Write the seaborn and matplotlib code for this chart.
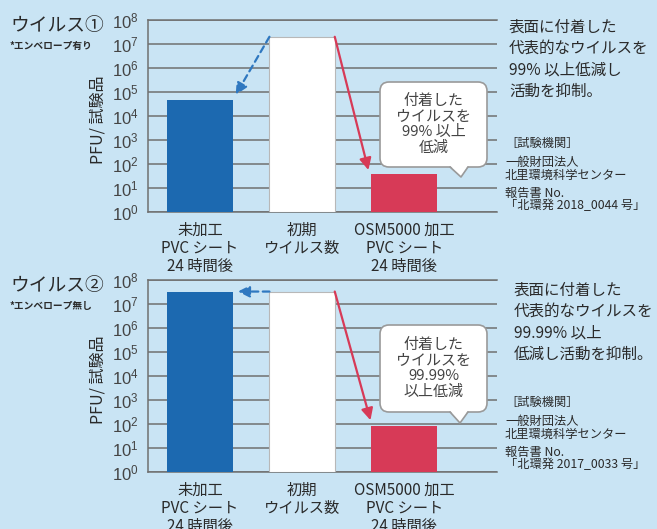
import numpy as np
import pandas as pd
import matplotlib
matplotlib.use("Agg")
import matplotlib.pyplot as plt
import matplotlib.transforms as mtransforms
from matplotlib.patches import FancyBboxPatch, Polygon
from matplotlib.lines import Line2D
from matplotlib.ticker import FixedLocator, NullLocator
import seaborn as sns

# ---------------- data ----------------
categories = ["未加工\nPVC シート\n24 時間後", "初期\nウイルス数", "OSM5000 加工\nPVC シート\n24 時間後"]
virus1_values = [4.5e4, 2.0e7, 40]
virus2_values = [3.3e7, 3.3e7, 80]
ytick_exponents = [0, 1, 2, 3, 4, 5, 6, 7, 8]
ytick_labels = [f"$10^{{{e}}}$" for e in ytick_exponents]
titles = ["ウイルス①", "ウイルス②"]
subtitles = ["*エンベロープ有り", "*エンベロープ無し"]
ylabel = "PFU/ 試験品"
bubble_texts = [["付着した", "ウイルスを", "99% 以上", "低減"],
                ["付着した", "ウイルスを", "99.99%", "以上低減"]]
claim_texts = [["表面に付着した", "代表的なウイルスを", "99% 以上低減し", "活動を抑制。"],
               ["表面に付着した", "代表的なウイルスを", "99.99% 以上", "低減し活動を抑制。"]]
lab_texts = [["［試験機関］", "一般財団法人", "北里環境科学センター", "報告書 No.", "「北環発 2018_0044 号」"],
             ["［試験機関］", "一般財団法人", "北里環境科学センター", "報告書 No.", "「北環発 2017_0033 号」"]]

# ---------------- style ----------------
BG = "#c9e4f4"
BAR_COLORS = ["#1c69b0", "#ffffff", "#d73a57"]
GRID = "#707070"
TXT = "#2a2a2a"
W, H = 657, 529

sns.set_style("white")
plt.rcParams["font.family"] = ["Noto Sans CJK JP", "DejaVu Sans"]
plt.rcParams["mathtext.fontset"] = "custom"
plt.rcParams["mathtext.rm"] = "Liberation Sans"
plt.rcParams["mathtext.it"] = "Liberation Sans"

fig = plt.figure(figsize=(W / 100, H / 100), dpi=100)
fig.patch.set_facecolor(BG)

PX = mtransforms.Affine2D().scale(1 / W, -1 / H).translate(0, 1) + fig.transFigure


def ftext(x, y, s, **kw):
    kw.setdefault("color", TXT)
    fig.text(x, y, s, transform=PX, **kw)


def bubble(x0, y0, x1, y1, tail, lines):
    box = FancyBboxPatch((x0, y0), x1 - x0, y1 - y0,
                         boxstyle="round,pad=0,rounding_size=9",
                         transform=PX, facecolor="white", edgecolor="#9a9a9a",
                         linewidth=1.2, zorder=5)
    fig.add_artist(box)
    tx1, tx2, tip = tail
    poly = Polygon([(tx1, y1 - 1.5), tip, (tx2, y1 - 1.5)], closed=True,
                   transform=PX, facecolor="white", edgecolor="none", zorder=6)
    fig.add_artist(poly)
    fig.add_artist(Line2D([tx1, tip[0], tx2], [y1, tip[1], y1], transform=PX,
                          color="#9a9a9a", linewidth=1.2, zorder=7))
    cx = (x0 + x1) / 2
    cy = (y0 + y1) / 2
    n = len(lines)
    step = 15.5
    for i, s in enumerate(lines):
        ftext(cx, cy + (i - (n - 1) / 2) * step, s, ha="center", va="center",
              fontsize=10.8, zorder=8, color="#444444")


def panel(top, values, title, subtitle, claims, labs, claim_top, lab_top,
          bubble_box, bubble_tail, btext, arrows):
    left, right, bottom = 148, 497, top + 192
    ax = fig.add_axes([left / W, 1 - bottom / H, (right - left) / W, (bottom - top) / H])
    ax.set_facecolor("none")
    df = pd.DataFrame({"cat": categories, "val": values})
    sns.barplot(data=df, x="cat", y="val", hue="cat", palette=BAR_COLORS,
                saturation=1, legend=False, width=0.64, log_scale=True, ax=ax,
                edgecolor="none", linewidth=0, zorder=3)
    # on the log axis, start each bar at the bottom of the axis (10^0)
    for p in ax.patches:
        ptop = p.get_y() + p.get_height()
        p.set_y(1.0)
        p.set_height(ptop - 1.0)
    ax.patches[1].set_edgecolor("#b8b8b8")
    ax.patches[1].set_linewidth(0.8)
    ax.set_ylim(1, 1e8)
    ax.set_xlim(-0.51, 2.91)
    ax.yaxis.set_major_locator(FixedLocator([10.0 ** e for e in ytick_exponents]))
    ax.yaxis.set_minor_locator(NullLocator())
    ax.set_yticklabels(ytick_labels, fontsize=12, color="#444444")
    ax.set_xticks([0, 1, 2])
    ax.set_xticklabels(categories, fontsize=11, color=TXT, linespacing=1.1)
    ax.tick_params(axis="both", length=0)
    ax.tick_params(axis="y", pad=7)
    ax.tick_params(axis="x", pad=7)
    ax.set_xlabel("")
    ax.set_ylabel("")
    ax.set_axisbelow(True)
    ax.yaxis.grid(True, color=GRID, linewidth=1.1)
    ax.xaxis.grid(False)
    for side in ["top", "bottom", "left"]:
        ax.spines[side].set_visible(True)
        ax.spines[side].set_color(GRID)
        ax.spines[side].set_linewidth(1.1)
    ax.spines["right"].set_visible(False)

    # arrows
    for (x0, y0, x1, y1, color, style) in arrows:
        ax.annotate("", xy=(x1, y1), xytext=(x0, y0), zorder=6,
                    arrowprops=dict(arrowstyle="-|>,head_length=0.7,head_width=0.35",
                                    color=color, linewidth=1.6, linestyle=style,
                                    shrinkA=0, shrinkB=0))

    # texts
    ftext(10, top + 5, title, fontsize=13.5, ha="left", va="center")
    ftext(10, top + 26, subtitle, fontsize=7.0, ha="left", va="center", fontweight="bold")
    ftext(98, top + 100, ylabel, fontsize=11.5, rotation=90, ha="center", va="center")
    for i, s in enumerate(claims):
        ftext(claim_top[0], claim_top[1] + i * 21.5, s, fontsize=11.2, ha="left", va="center")
    offs = [0, 19, 32, 50, 63]
    for i, s in enumerate(labs):
        ftext(lab_top[0], lab_top[1] + offs[i], s, fontsize=8.8, ha="left", va="center")
    bubble(*bubble_box, bubble_tail, btext)
    return ax


w2 = 0.32
panel(20, virus1_values, titles[0], subtitles[0], claim_texts[0], lab_texts[0],
      (509, 27), (505, 143), (380, 82, 487, 167), (450, 468, (461, 177)), bubble_texts[0],
      [(1 - w2, virus1_values[1], 0 + w2 + 0.03, virus1_values[0] * 1.7, "#2f78c0", (0, (3, 2))),
       (1 + w2, virus1_values[1], 1.65, virus1_values[2] * 1.4, "#d73a57", "-")])
panel(280, virus2_values, titles[1], subtitles[1], claim_texts[1], lab_texts[1],
      (514, 290), (505, 402), (380, 325, 487, 412), (450, 468, (460, 423)), bubble_texts[1],
      [(1 - w2, virus2_values[1], 0 + w2 + 0.05, virus2_values[1], "#2f78c0", (0, (3, 2))),
       (1 + w2, virus2_values[1], 1.67, virus2_values[2] * 1.8, "#d73a57", "-")])

fig.savefig("out.png", dpi=100, facecolor=BG)
